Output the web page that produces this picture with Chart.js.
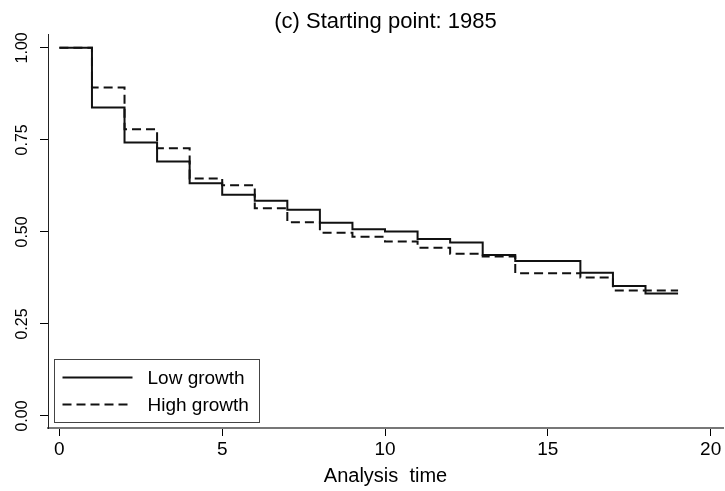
<!DOCTYPE html>
<html>
<head>
<meta charset="utf-8">
<script src="https://cdn.jsdelivr.net/npm/chart.js@4"></script>
<style>
  body { margin: 0; background: #fff; }
  #wrap { width: 725px; height: 491px; }
</style>
</head>
<body>
<div id="wrap"><canvas id="km"></canvas></div>
<script>
// analysis time (start of each step) and survivor estimates
const times = [0, 1, 2, 3, 4, 5, 6, 7, 8, 9, 10, 11, 12, 13, 14, 15, 16, 17, 18, 19];
const lowGrowth = [1.000, 0.838, 0.743, 0.691, 0.632, 0.601, 0.585, 0.560, 0.525, 0.507,
                   0.501, 0.481, 0.471, 0.437, 0.421, 0.421, 0.389, 0.353, 0.333, 0.333];
const highGrowth = [1.000, 0.892, 0.779, 0.727, 0.645, 0.627, 0.564, 0.526, 0.498, 0.487,
                    0.474, 0.457, 0.441, 0.433, 0.388, 0.388, 0.376, 0.341, 0.341, 0.341];
const seriesNames = ["Low growth", "High growth"];
const xTicks = [0, 5, 10, 15, 20];
const yTicks = [0, 0.25, 0.5, 0.75, 1];

const FONT = "'Liberation Sans', Arial, Helvetica, sans-serif";

function toPoints(vals) {
  return times.map((t, i) => ({ x: t, y: vals[i] }));
}

// legend box in the lower-left corner of the plot, like stata's ring(0)
const boxLegend = {
  id: "boxLegend",
  afterDraw(chart) {
    const ctx = chart.ctx;
    const area = chart.chartArea;
    const left = area.left + 6.5, top = 359.5, w = 205, h = 63;
    ctx.save();
    ctx.fillStyle = "#fff";
    ctx.fillRect(left, top, w, h);
    ctx.strokeStyle = "#444";
    ctx.lineWidth = 1;
    ctx.strokeRect(left, top, w, h);
    chart.data.datasets.forEach((ds, i) => {
      const y = top + 18 + i * 27;
      ctx.beginPath();
      ctx.setLineDash(ds.borderDash || []);
      ctx.strokeStyle = ds.borderColor;
      ctx.lineWidth = ds.borderWidth;
      ctx.moveTo(left + 8, y);
      ctx.lineTo(left + 78, y);
      ctx.stroke();
      ctx.setLineDash([]);
      ctx.fillStyle = "#000";
      ctx.font = "19px " + FONT;
      ctx.textBaseline = "middle";
      ctx.fillText(ds.label, left + 93, y + 1);
    });
    ctx.restore();
  }
};

new Chart(document.getElementById("km"), {
  type: "line",
  data: {
    datasets: [
      {
        label: seriesNames[0],
        data: toPoints(lowGrowth),
        stepped: "before",
        borderColor: "#111",
        borderWidth: 2,
        pointRadius: 0,
        fill: false
      },
      {
        label: seriesNames[1],
        data: toPoints(highGrowth),
        stepped: "before",
        borderColor: "#111",
        borderWidth: 2,
        borderDash: [9, 5],
        pointRadius: 0,
        fill: false
      }
    ]
  },
  options: {
    responsive: true,
    maintainAspectRatio: false,
    animation: false,
    layout: { padding: { left: 0, right: 2, top: 0, bottom: 0 } },
    plugins: {
      legend: { display: false },
      tooltip: { enabled: false },
      title: {
        display: true,
        text: "(c) Starting point: 1985",
        fullSize: false,
        color: "#000",
        font: { family: FONT, size: 22, weight: "normal", lineHeight: 1.18 },
        padding: { top: 9, bottom: 0 }
      }
    },
    scales: {
      x: {
        type: "linear",
        min: -0.35,
        max: 20.38,
        afterBuildTicks(scale) { scale.ticks = xTicks.map(v => ({ value: v })); },
        afterFit(scale) {
          scale.height = 63;
          scale.paddingLeft = 0;
          scale.paddingRight = 0;
        },
        grid: { drawOnChartArea: false, drawTicks: true, tickLength: 8, color: "#000", lineWidth: 1 },
        border: { display: true, color: "#777", width: 2 },
        ticks: {
          color: "#000",
          padding: 2,
          maxRotation: 0,
          font: { family: FONT, size: 19 },
          callback: v => String(v)
        },
        title: {
          display: true,
          text: "Analysis  time",
          color: "#000",
          font: { family: FONT, size: 20 },
          padding: { top: 0, bottom: 3 }
        }
      },
      y: {
        type: "linear",
        min: -0.0326,
        max: 1.035,
        afterBuildTicks(scale) { scale.ticks = yTicks.map(v => ({ value: v })); },
        afterFit(scale) {
          scale.width = 48;
          scale.paddingTop = 0;
          scale.paddingBottom = 0;
        },
        grid: { drawOnChartArea: false, drawTicks: true, tickLength: 8, color: "#000", lineWidth: 1 },
        border: { display: true, color: "#222", width: 1 },
        ticks: {
          color: "#000",
          padding: 2,
          minRotation: 90,
          maxRotation: 90,
          crossAlign: "center",
          font: { family: FONT, size: 16 },
          callback: v => Number(v).toFixed(2)
        }
      }
    }
  },
  plugins: [boxLegend]
});
</script>
</body>
</html>
